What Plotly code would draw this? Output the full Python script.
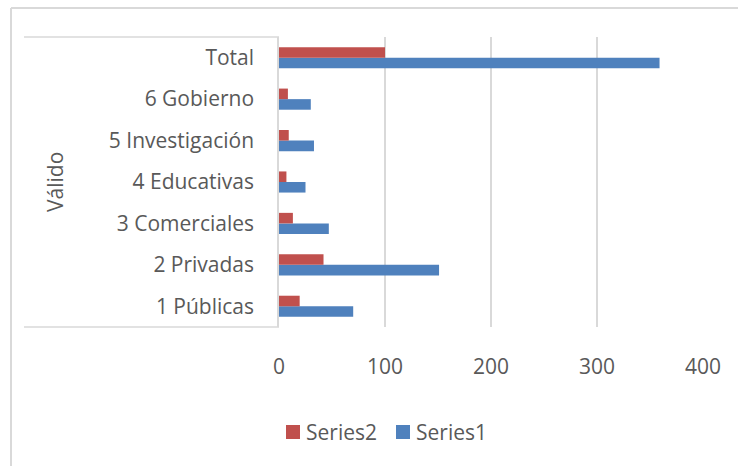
import plotly.graph_objects as go

categories = ["1 Públicas", "2 Privadas", "3 Comerciales", "4 Educativas",
              "5 Investigación", "6 Gobierno", "Total"]
series1 = [70, 151, 47, 25, 33, 30, 359]
series2 = [19.5, 42, 13.1, 7, 9.2, 8.4, 100]
group_label = "Válido"
x_ticks = [0, 100, 200, 300, 400]
legend_names = ["Series2", "Series1"]
legend_colors = ["#C0504D", "#4F81BD"]

FONT = "Open Sans"
GRAY = "#595959"
LINE = "#d9d9d9"
FS = 21

fig = go.Figure()
fig.add_trace(go.Bar(y=categories, x=series1, orientation="h", name="Series1",
                     marker=dict(color="#4F81BD", line=dict(width=0)), showlegend=False))
fig.add_trace(go.Bar(y=categories, x=series2, orientation="h", name="Series2",
                     marker=dict(color="#C0504D", line=dict(width=0)), showlegend=False))

L, R, T, B = 279, 35, 37, 139
W, H = 738, 466
pw, ph = W - L - R, H - T - B

def px(x):
    return (x - L) / pw

def py(y):
    return (H - B - y) / ph

shapes = [
    dict(type="line", xref="paper", yref="paper", x0=px(24), x1=0, y0=1, y1=1,
         line=dict(color=LINE, width=1.5)),
    dict(type="line", xref="paper", yref="paper", x0=px(24), x1=0, y0=0, y1=0,
         line=dict(color=LINE, width=1.5)),
    dict(type="line", xref="paper", yref="paper", x0=px(11), x1=px(760), y0=py(8), y1=py(8),
         line=dict(color=LINE, width=2)),
    dict(type="line", xref="paper", yref="paper", x0=px(11), x1=px(11), y0=py(8), y1=py(480),
         line=dict(color=LINE, width=2)),
]
annotations = [
    dict(text=group_label, xref="paper", yref="paper", x=px(55), y=py(182),
         showarrow=False, textangle=-90, xanchor="center", yanchor="middle",
         font=dict(size=FS, color=GRAY)),
]

# legend (key squares + labels)
legend_x = [286, 396]
for name, col, lx in zip(legend_names, legend_colors, legend_x):
    shapes.append(dict(type="rect", xref="paper", yref="paper",
                       x0=px(lx), x1=px(lx + 14), y0=py(439), y1=py(425),
                       fillcolor=col, line=dict(width=0)))
    annotations.append(dict(text=name, xref="paper", yref="paper", x=px(lx + 18), y=py(432),
                            showarrow=False, xanchor="left", yanchor="middle",
                            font=dict(size=FS, color=GRAY)))

fig.update_layout(
    width=W, height=H,
    margin=dict(l=L, r=R, t=T, b=B, pad=0),
    paper_bgcolor="white", plot_bgcolor="white",
    barmode="group", bargap=0.49, bargroupgap=0,
    font=dict(family=FONT, size=FS, color=GRAY),
    showlegend=False,
    xaxis=dict(range=[0, 400], tickvals=x_ticks, showgrid=True, gridcolor=LINE, gridwidth=1.5,
               zeroline=False, showline=False, ticks="", ticklabelstandoff=25,
               tickfont=dict(size=FS, color=GRAY), fixedrange=True),
    yaxis=dict(categoryorder="array", categoryarray=categories, showgrid=False,
               zeroline=False, showline=True, linecolor=LINE, linewidth=1.5, ticks="",
               ticklabelstandoff=19, tickfont=dict(size=FS, color=GRAY), fixedrange=True),
    shapes=shapes,
    annotations=annotations,
)

fig.write_html("out.html", config=dict(displayModeBar=False),
               post_script="document.body.style.margin='0';document.body.style.overflow='hidden';")
